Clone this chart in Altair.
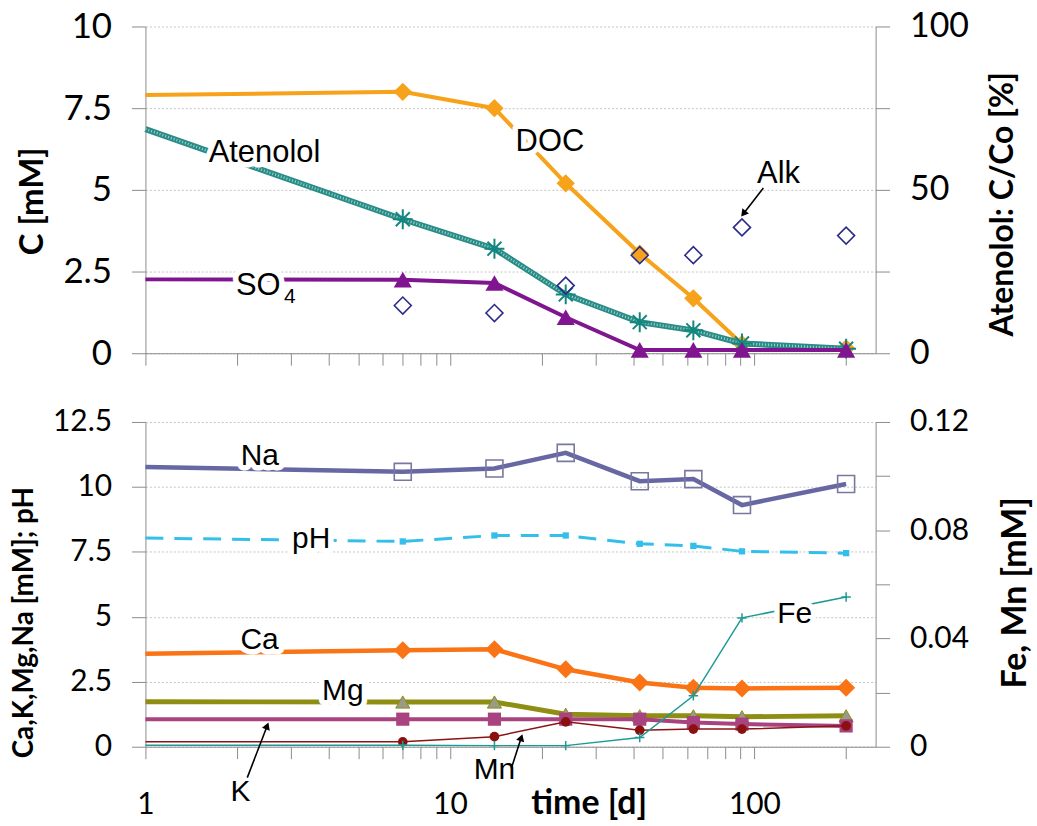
import altair as alt
import pandas as pd

# sampling days (log time axis)
days = [1, 7, 14, 24, 42, 63, 91, 200]

# upper panel: concentrations C [mM]
doc = [7.9, 8.0, 7.5, 5.2, 3.05, 1.68, 0.28, 0.15]
so4 = [2.26, 2.25, 2.15, 1.1, 0.1, 0.1, 0.1, 0.1]
alk = [None, 1.46, 1.23, 2.07, 3.0, 3.0, 3.85, 3.6]
# upper panel, right axis: Atenolol C/Co [%]
atenolol = [68.6, 41.0, 32.0, 18.0, 9.5, 7.0, 3.0, 1.4]

# lower panel: Ca, K, Mg, Na [mM] and pH
na = [10.77, 10.58, 10.71, 11.31, 10.22, 10.3, 9.3, 10.11]
ph = [8.03, 7.9, 8.13, 8.13, 7.81, 7.73, 7.52, 7.45]
ca = [3.58, 3.71, 3.75, 2.98, 2.47, 2.27, 2.24, 2.27]
mg = [1.73, 1.72, 1.72, 1.25, 1.19, 1.19, 1.15, 1.19]
k = [1.06, 1.06, 1.06, 1.06, 1.06, 0.93, 0.87, 0.8]
# lower panel, right axis: Fe, Mn [mM]
mn = [0.0018, 0.0018, 0.0037, 0.0092, 0.0061, 0.0065, 0.0065, 0.0077]
fe = [0.0005, 0.0005, 0.0004, 0.0004, 0.0034, 0.0188, 0.0476, 0.0553]

# axis ticks and ranges
x_ticks = [1, 2, 3, 4, 5, 6, 7, 8, 9, 10, 20, 30, 40, 50, 60, 70, 80, 90, 100, 200]
x_domain = [1, 250]
c_ticks = [0, 2.5, 5, 7.5, 10]
pct_ticks = [0, 25, 50, 75, 100]
ion_ticks = [0, 2.5, 5, 7.5, 10, 12.5]
femn_ticks = [0, 0.02, 0.04, 0.06, 0.08, 0.1, 0.12]

# series labels: text, day, value (left-axis units)
top_labels = pd.DataFrame({
    "text": ["Atenolol", "DOC", "SO", "Alk"],
    "day": [2.46, 21.3, 2.348, 120.0],
    "value": [6.13, 6.47, 2.07, 5.49],
})
top_sub = pd.DataFrame({"text": ["4"], "day": [2.977], "value": [1.72]})
bottom_labels = pd.DataFrame({
    "text": ["Na", "pH", "Ca", "Mg", "Fe"],
    "day": [2.375, 3.5, 2.37, 4.45, 135.6],
    "value": [11.2, 7.98, 4.1, 2.15, 5.1],
})
bottom_notes = pd.DataFrame({
    "text": ["K", "Mn"],
    "day": [2.05, 14.0],
    "value": [-1.73, -0.88],
})
# pointer arrows: start (day, value) -> tip (day2, value2), head angle
top_arrows = pd.DataFrame({
    "day": [107.0], "value": [5.06], "day2": [92.0], "value2": [4.27], "angle": [218],
})
bottom_arrows = pd.DataFrame({
    "day": [2.16, 15.9], "value": [-1.19, -0.84],
    "day2": [2.51, 17.15], "value2": [0.8, 0.35], "angle": [21, 18],
})

GRAY = "#8C8C8C"
TICK_FONT = "Lato"
LABEL_FONT = "Liberation Sans"
STAR = "M-1,0L1,0M0,-1L0,1M-0.7,-0.7L0.7,0.7M-0.7,0.7L0.7,-0.7"
PLUS = "M-1,0L1,0M0,-1L0,1"


def frame(values):
    return pd.DataFrame({"day": days, "value": values}).dropna()


def markers(values):
    df = frame(values)
    return df[df["day"] > 1]


x_top_axis = alt.Axis(values=x_ticks, labels=False, title=None, tickSize=12,
                      grid=False, domainColor=GRAY, tickColor=GRAY)
x_bottom_axis = alt.Axis(
    values=x_ticks, tickSize=12, grid=False, domainColor=GRAY, tickColor=GRAY,
    labelExpr="datum.value == 1 || datum.value == 10 || datum.value == 100 ? format(datum.value, 'd') : ''",
    labelFont=TICK_FONT, labelFontSize=30, labelPadding=55, labelBaseline="alphabetic",
    labelColor="black", labelFlush=False, labelOverlap=False,
    title="time [d]", titleFont=TICK_FONT, titleFontSize=34, titleFontWeight="bold",
    titleX=445, titleY=67, titleBaseline="alphabetic", titleAlign="center", titleColor="black",
)


def x_enc(axis, field="day"):
    return alt.X(f"{field}:Q", scale=alt.Scale(type="log", domain=x_domain, nice=False), axis=axis)


def y_enc(domain, axis=None, field="value"):
    return alt.Y(f"{field}:Q", scale=alt.Scale(domain=domain, nice=False, zero=False), axis=axis)


def left_axis(values, title, size, title_size, title_x, title_y):
    return alt.Axis(values=values, labelExpr="format(datum.value, '~g')", title=title, tickSize=14,
                    labelPadding=20, labelFont=TICK_FONT, labelFontSize=size, labelColor="black",
                    domainColor=GRAY, tickColor=GRAY, grid=True, gridColor="#C4C4C4",
                    gridDash=[2, 2], titleFont=TICK_FONT, titleFontSize=title_size,
                    titleFontWeight="bold", titleColor="black", titleAngle=270, titleX=title_x,
                    titleY=title_y, titleAlign="center", titleBaseline="middle")


def right_axis(values, label_expr, title, size, title_size, title_x, title_y):
    return alt.Axis(values=values, labelExpr=label_expr, orient="right", title=title, tickSize=14,
                    labelPadding=20, labelFont=TICK_FONT, labelFontSize=size, labelColor="black",
                    domainColor=GRAY, tickColor=GRAY, grid=False, titleFont=TICK_FONT,
                    titleFontSize=title_size, titleFontWeight="bold", titleColor="black",
                    titleAngle=270, titleX=title_x, titleY=title_y, titleAlign="center",
                    titleBaseline="middle")


def line(values, xax, dom, color, width, axis=None, dash=None):
    kw = {"color": color, "strokeWidth": width}
    if dash:
        kw["strokeDash"] = dash
    return alt.Chart(frame(values)).mark_line(**kw).encode(x=x_enc(xax), y=y_enc(dom, axis))


def points(values, xax, dom, shape, size, fill=None, stroke=None, sw=1.5):
    kw = {"shape": shape, "size": size, "opacity": 1, "strokeWidth": sw}
    if fill:
        kw["filled"] = True
        kw["fill"] = fill
    else:
        kw["filled"] = False
    if stroke:
        kw["stroke"] = stroke
    return alt.Chart(markers(values)).mark_point(**kw).encode(x=x_enc(xax), y=y_enc(dom))


def texts(df, xax, dom, size, halo=True):
    layers = []
    if halo:
        layers.append(alt.Chart(df).mark_text(font=LABEL_FONT, fontSize=size, fill="white",
                                              stroke="white", strokeWidth=11, strokeJoin="round")
                      .encode(x=x_enc(xax), y=y_enc(dom), text="text:N"))
    layers.append(alt.Chart(df).mark_text(font=LABEL_FONT, fontSize=size, color="black")
                  .encode(x=x_enc(xax), y=y_enc(dom), text="text:N"))
    return layers


def arrows(df, xax, dom):
    shaft = alt.Chart(df).mark_rule(color="black", strokeWidth=1.6).encode(
        x=x_enc(xax), y=y_enc(dom), x2="day2:Q", y2="value2:Q")
    head = alt.Chart(df).mark_point(shape="triangle-up", filled=True, fill="black", size=70,
                                    opacity=1).encode(
        x=x_enc(xax, "day2"), y=y_enc(dom, None, "value2"), angle=alt.Angle("angle:Q", scale=None))
    return [shaft, head]


# ---------- upper panel ----------
XT = x_top_axis
C_DOM = [0, 10]
P_DOM = [0, 100]
c_axis = left_axis(c_ticks, "C [mM]", 35, 33, -113, 175)
p_axis = right_axis(pct_ticks, "datum.value % 50 == 0 ? format(datum.value, 'd') : ''",
                    "Atenolol: C/Co [%]", 34, 32, 127, 178)

top = alt.layer(
    line(doc, XT, C_DOM, "#F7A21B", 4, axis=c_axis),
    points(doc, XT, C_DOM, "diamond", 340, fill="#F7A21B"),
    line(atenolol, XT, P_DOM, "#2A8C87", 6, axis=p_axis),
    line(atenolol, XT, P_DOM, "#9FD3CE", 2.5, dash=[1, 2]),
    points(atenolol, XT, P_DOM, STAR, 400, stroke="#13877F", sw=2),
    line(so4, XT, C_DOM, "#80168F", 4),
    points(so4, XT, C_DOM, "triangle-up", 330, fill="#80168F"),
    points(alk, XT, C_DOM, "diamond", 290, stroke="#2A2A8A", sw=1.6),
    *texts(top_labels, XT, C_DOM, 31),
    *texts(top_sub, XT, C_DOM, 21),
    *arrows(top_arrows, XT, C_DOM),
).resolve_scale(y="independent").properties(width=733, height=328)

# ---------- lower panel ----------
XB = x_bottom_axis
I_DOM = [0, 12.5]
F_DOM = [0, 0.12]
i_axis = left_axis(ion_ticks, "Ca,K,Mg,Na [mM]; pH", 30, 28, -121, 201)
f_axis = right_axis(femn_ticks, "round(datum.value * 100) % 4 == 0 ? format(datum.value, '~g') : ''",
                    "Fe, Mn [mM]", 30, 34, 140, 171)

bottom = alt.layer(
    line(na, XB, I_DOM, "#6667A3", 4.5, axis=i_axis),
    points(na, XB, I_DOM, "square", 290, stroke="#78789E", sw=1.6),
    line(ph, XB, I_DOM, "#34BFEA", 3, dash=[18, 11]),
    points(ph, XB, I_DOM, "square", 40, fill="#34BFEA"),
    line(ca, XB, I_DOM, "#FA7315", 4.5),
    points(ca, XB, I_DOM, "diamond", 330, fill="#FA7315"),
    line(mg, XB, I_DOM, "#8E8E12", 5),
    points(mg, XB, I_DOM, "triangle-up", 200, fill="#9A9A88", stroke="#8E8E12", sw=1),
    line(k, XB, I_DOM, "#A9437F", 4),
    points(k, XB, I_DOM, "square", 175, fill="#A9437F"),
    line(mn, XB, F_DOM, "#8B1414", 1.5, axis=f_axis),
    points(mn, XB, F_DOM, "circle", 95, fill="#8B1010"),
    line(fe, XB, F_DOM, "#1E9A94", 1.5),
    points(fe, XB, F_DOM, PLUS, 90, stroke="#1E9A94", sw=1.5),
    *texts(bottom_labels, XB, I_DOM, 30),
    *texts(bottom_notes, XB, I_DOM, 30, halo=False),
    *arrows(bottom_arrows, XB, I_DOM),
).resolve_scale(y="independent").properties(width=733, height=326)

chart = alt.vconcat(top, bottom, spacing=69, bounds="flush").properties(
    padding={"left": 11, "top": 8, "right": 5, "bottom": 0},
    background="white",
).configure_view(strokeWidth=0)

chart.save("out.html", embed_options={"renderer": "svg", "actions": False})
